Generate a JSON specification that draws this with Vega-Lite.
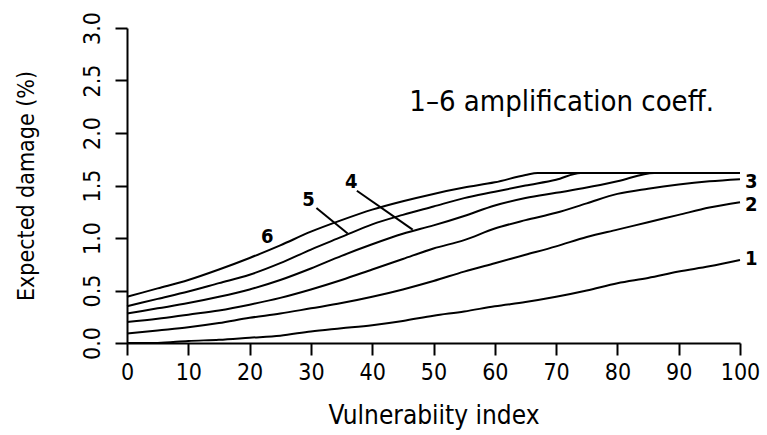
{
  "$schema": "https://vega.github.io/schema/vega-lite/v6.json",
  "width": 613,
  "height": 315,
  "autosize": {"type": "none"},
  "padding": {"left": 127, "top": 28, "right": 27, "bottom": 92},
  "background": "white",
  "config": {
    "view": {"stroke": null},
    "font": "DejaVu Sans Condensed, Liberation Sans Narrow, DejaVu Sans",
    "axis": {
      "grid": false,
      "domainColor": "black",
      "domainWidth": 2,
      "tickColor": "black",
      "tickWidth": 2,
      "tickSize": 12,
      "labelFlush": false,
      "labelOverlap": false,
      "labelColor": "black",
      "titleColor": "black",
      "labelFont": "DejaVu Sans Condensed, Liberation Sans Narrow, DejaVu Sans",
      "titleFont": "DejaVu Sans Condensed, Liberation Sans Narrow, DejaVu Sans",
      "labelFontWeight": "normal",
      "titleFontWeight": "normal"
    }
  },
  "datasets": {
    "curves": [
      {"vi": 0, "d": 0.44, "c": "6"}, {"vi": 5, "d": 0.52, "c": "6"}, {"vi": 10, "d": 0.60, "c": "6"}, {"vi": 15, "d": 0.70, "c": "6"}, {"vi": 20, "d": 0.81, "c": "6"}, {"vi": 25, "d": 0.93, "c": "6"}, {"vi": 30, "d": 1.06, "c": "6"}, {"vi": 35, "d": 1.17, "c": "6"}, {"vi": 40, "d": 1.27, "c": "6"}, {"vi": 45, "d": 1.35, "c": "6"}, {"vi": 50, "d": 1.42, "c": "6"}, {"vi": 55, "d": 1.48, "c": "6"}, {"vi": 60, "d": 1.53, "c": "6"}, {"vi": 65, "d": 1.60, "c": "6"}, {"vi": 67, "d": 1.62, "c": "6"}, {"vi": 100, "d": 1.62, "c": "6"},
      {"vi": 0, "d": 0.35, "c": "5"}, {"vi": 5, "d": 0.42, "c": "5"}, {"vi": 10, "d": 0.49, "c": "5"}, {"vi": 15, "d": 0.57, "c": "5"}, {"vi": 20, "d": 0.65, "c": "5"}, {"vi": 25, "d": 0.76, "c": "5"}, {"vi": 30, "d": 0.89, "c": "5"}, {"vi": 35, "d": 1.01, "c": "5"}, {"vi": 40, "d": 1.13, "c": "5"}, {"vi": 45, "d": 1.22, "c": "5"}, {"vi": 50, "d": 1.30, "c": "5"}, {"vi": 55, "d": 1.38, "c": "5"}, {"vi": 60, "d": 1.44, "c": "5"}, {"vi": 65, "d": 1.50, "c": "5"}, {"vi": 70, "d": 1.555, "c": "5"}, {"vi": 74, "d": 1.62, "c": "5"}, {"vi": 100, "d": 1.62, "c": "5"},
      {"vi": 0, "d": 0.28, "c": "4"}, {"vi": 5, "d": 0.33, "c": "4"}, {"vi": 10, "d": 0.38, "c": "4"}, {"vi": 15, "d": 0.44, "c": "4"}, {"vi": 20, "d": 0.51, "c": "4"}, {"vi": 25, "d": 0.60, "c": "4"}, {"vi": 30, "d": 0.71, "c": "4"}, {"vi": 35, "d": 0.83, "c": "4"}, {"vi": 40, "d": 0.94, "c": "4"}, {"vi": 45, "d": 1.04, "c": "4"}, {"vi": 50, "d": 1.12, "c": "4"}, {"vi": 55, "d": 1.21, "c": "4"}, {"vi": 60, "d": 1.31, "c": "4"}, {"vi": 65, "d": 1.38, "c": "4"}, {"vi": 70, "d": 1.43, "c": "4"}, {"vi": 75, "d": 1.48, "c": "4"}, {"vi": 80, "d": 1.54, "c": "4"}, {"vi": 86, "d": 1.62, "c": "4"}, {"vi": 100, "d": 1.62, "c": "4"},
      {"vi": 0, "d": 0.20, "c": "3"}, {"vi": 5, "d": 0.23, "c": "3"}, {"vi": 10, "d": 0.27, "c": "3"}, {"vi": 15, "d": 0.31, "c": "3"}, {"vi": 20, "d": 0.365, "c": "3"}, {"vi": 25, "d": 0.43, "c": "3"}, {"vi": 30, "d": 0.51, "c": "3"}, {"vi": 35, "d": 0.60, "c": "3"}, {"vi": 40, "d": 0.70, "c": "3"}, {"vi": 45, "d": 0.80, "c": "3"}, {"vi": 50, "d": 0.90, "c": "3"}, {"vi": 55, "d": 0.98, "c": "3"}, {"vi": 60, "d": 1.09, "c": "3"}, {"vi": 65, "d": 1.17, "c": "3"}, {"vi": 70, "d": 1.24, "c": "3"}, {"vi": 75, "d": 1.33, "c": "3"}, {"vi": 80, "d": 1.42, "c": "3"}, {"vi": 85, "d": 1.47, "c": "3"}, {"vi": 90, "d": 1.51, "c": "3"}, {"vi": 95, "d": 1.54, "c": "3"}, {"vi": 100, "d": 1.56, "c": "3"},
      {"vi": 0, "d": 0.09, "c": "2"}, {"vi": 5, "d": 0.12, "c": "2"}, {"vi": 10, "d": 0.15, "c": "2"}, {"vi": 15, "d": 0.19, "c": "2"}, {"vi": 20, "d": 0.24, "c": "2"}, {"vi": 25, "d": 0.28, "c": "2"}, {"vi": 30, "d": 0.33, "c": "2"}, {"vi": 35, "d": 0.38, "c": "2"}, {"vi": 40, "d": 0.44, "c": "2"}, {"vi": 45, "d": 0.51, "c": "2"}, {"vi": 50, "d": 0.59, "c": "2"}, {"vi": 55, "d": 0.68, "c": "2"}, {"vi": 60, "d": 0.76, "c": "2"}, {"vi": 65, "d": 0.84, "c": "2"}, {"vi": 70, "d": 0.92, "c": "2"}, {"vi": 75, "d": 1.01, "c": "2"}, {"vi": 80, "d": 1.08, "c": "2"}, {"vi": 85, "d": 1.15, "c": "2"}, {"vi": 90, "d": 1.22, "c": "2"}, {"vi": 95, "d": 1.29, "c": "2"}, {"vi": 100, "d": 1.34, "c": "2"},
      {"vi": 0, "d": 0.0, "c": "1"}, {"vi": 5, "d": 0.0, "c": "1"}, {"vi": 10, "d": 0.02, "c": "1"}, {"vi": 15, "d": 0.03, "c": "1"}, {"vi": 20, "d": 0.05, "c": "1"}, {"vi": 25, "d": 0.07, "c": "1"}, {"vi": 30, "d": 0.11, "c": "1"}, {"vi": 35, "d": 0.14, "c": "1"}, {"vi": 40, "d": 0.17, "c": "1"}, {"vi": 45, "d": 0.21, "c": "1"}, {"vi": 50, "d": 0.26, "c": "1"}, {"vi": 55, "d": 0.30, "c": "1"}, {"vi": 60, "d": 0.35, "c": "1"}, {"vi": 65, "d": 0.39, "c": "1"}, {"vi": 70, "d": 0.44, "c": "1"}, {"vi": 75, "d": 0.50, "c": "1"}, {"vi": 80, "d": 0.57, "c": "1"}, {"vi": 85, "d": 0.62, "c": "1"}, {"vi": 90, "d": 0.68, "c": "1"}, {"vi": 95, "d": 0.73, "c": "1"}, {"vi": 100, "d": 0.79, "c": "1"}
    ],
    "endLabels": [
      {"vi": 100, "d": 1.53, "t": "3"},
      {"vi": 100, "d": 1.31, "t": "2"},
      {"vi": 100, "d": 0.80, "t": "1"}
    ],
    "leftLabels": [
      {"vi": 22.9, "d": 1.01, "t": "6"},
      {"vi": 29.6, "d": 1.365, "t": "5"},
      {"vi": 36.6, "d": 1.53, "t": "4"}
    ],
    "leaders": [
      {"vi": 30.9, "d": 1.286, "vi2": 36.0, "d2": 1.042},
      {"vi": 37.5, "d": 1.45, "vi2": 46.6, "d2": 1.08}
    ],
    "note": [
      {"vi": 70.9, "d": 2.30, "t": "1–6 amplification coeff."}
    ]
  },
  "layer": [
    {
      "data": {"name": "curves"},
      "mark": {"type": "line", "color": "black", "strokeWidth": 2, "interpolate": "monotone"},
      "encoding": {
        "x": {
          "field": "vi", "type": "quantitative",
          "scale": {"domain": [0, 100], "nice": false},
          "axis": {
            "values": [0, 10, 20, 30, 40, 50, 60, 70, 80, 90, 100],
            "title": "Vulnerabiity index",
            "labelFontSize": 23,
            "labelPadding": 6,
            "titleFontSize": 26,
            "titlePadding": 18
          }
        },
        "y": {
          "field": "d", "type": "quantitative",
          "scale": {"domain": [0, 3], "nice": false},
          "axis": {
            "values": [0, 0.5, 1, 1.5, 2, 2.5, 3],
            "format": ".1f",
            "labelAngle": -90,
            "labelAlign": "center",
            "labelBaseline": "bottom",
            "labelFontSize": 23,
            "labelPadding": 11,
            "title": "Expected damage (%)",
            "titleFontSize": 23,
            "titlePadding": 43
          }
        },
        "detail": {"field": "c"}
      }
    },
    {
      "data": {"name": "leaders"},
      "mark": {"type": "rule", "color": "black", "strokeWidth": 2},
      "encoding": {
        "x": {"field": "vi", "type": "quantitative"},
        "y": {"field": "d", "type": "quantitative"},
        "x2": {"field": "vi2"},
        "y2": {"field": "d2"}
      }
    },
    {
      "data": {"name": "endLabels"},
      "mark": {"type": "text", "align": "left", "baseline": "middle", "dx": 5, "fontSize": 20, "fontWeight": "bold", "color": "black"},
      "encoding": {
        "x": {"field": "vi", "type": "quantitative"},
        "y": {"field": "d", "type": "quantitative"},
        "text": {"field": "t"}
      }
    },
    {
      "data": {"name": "leftLabels"},
      "mark": {"type": "text", "align": "center", "baseline": "middle", "fontSize": 20, "fontWeight": "bold", "color": "black"},
      "encoding": {
        "x": {"field": "vi", "type": "quantitative"},
        "y": {"field": "d", "type": "quantitative"},
        "text": {"field": "t"}
      }
    },
    {
      "data": {"name": "note"},
      "mark": {"type": "text", "align": "center", "baseline": "middle", "fontSize": 29, "color": "black"},
      "encoding": {
        "x": {"field": "vi", "type": "quantitative"},
        "y": {"field": "d", "type": "quantitative"},
        "text": {"field": "t"}
      }
    }
  ]
}
